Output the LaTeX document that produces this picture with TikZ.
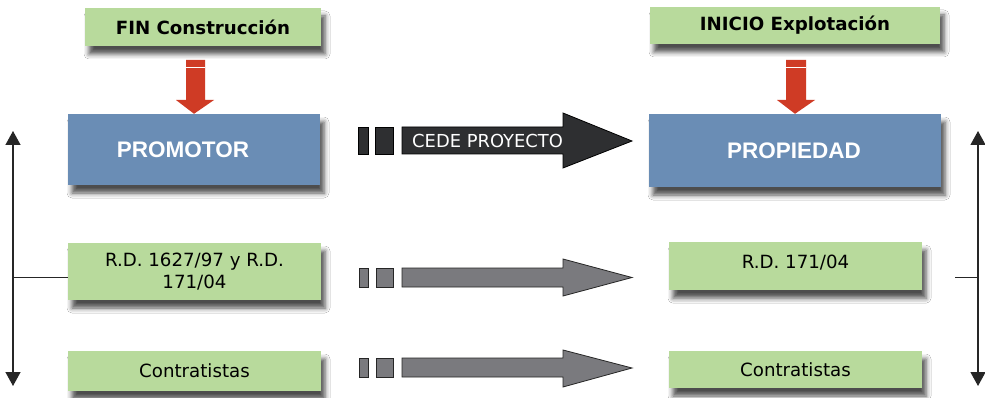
\documentclass[tikz,border=0pt]{standalone}
\usepackage{fontspec}
\usetikzlibrary{shadows.blur,arrows.meta}
\newfontfamily\dvs{DejaVu Sans}
\newfontfamily\lsans{Liberation Sans}
\definecolor{boxgreen}{HTML}{B8DA9C}
\definecolor{boxblue}{HTML}{6A8DB5}
\definecolor{arrred}{HTML}{CF3B25}
\definecolor{arrdark}{HTML}{2E2F31}
\definecolor{arrgray}{HTML}{7A7A7E}
\tikzset{
  shad/.style={blur shadow={shadow xshift=4pt, shadow yshift=-8pt, shadow blur radius=5pt, shadow opacity=70}},
  greenbox/.style={shad, fill=boxgreen, draw=none, inner sep=0pt, align=center, font=\dvs\fontsize{18.2}{22}\selectfont},
  titlebox/.style={greenbox, font=\dvs\bfseries\fontsize{18.2}{20}\selectfont},
  bluebox/.style={shad, fill=boxblue, draw=none, inner sep=0pt},
  bluetext/.style={text=white, font=\lsans\bfseries\fontsize{22.5}{26}\selectfont, inner sep=0pt},
  redarrow/.style={fill=arrred, draw=none},
  darkarrow/.style={fill=arrdark, draw=black, line width=0.8pt},
  grayarrow/.style={fill=arrgray, draw=black!85, line width=0.8pt},
  sidearrow/.style={line width=1.3pt, black!85, {Triangle[width=15pt,length=14pt]}-{Triangle[width=15pt,length=14pt]}},
}
\begin{document}
\begin{tikzpicture}[x=1pt,y=-1pt]
\useasboundingbox[fill=white] (0,0) rectangle (985,398);

% top title boxes
\node[titlebox, minimum width=236pt, minimum height=38pt] (fin) at (203,27) {FIN Construcción};
\node[titlebox, minimum width=290pt, minimum height=37pt] (ini) at (795,25.5) {INICIO Explotación};

% blue boxes
\node[bluebox, minimum width=252pt, minimum height=71pt] (prom) at (194,149.5) {};
\node[bluetext] (promt) at (183,150) {PROMOTOR};
\node[bluebox, minimum width=292pt, minimum height=73pt] (prop) at (795,150.5) {};
\node[bluetext] (propt) at (794,151) {PROPIEDAD};

% green boxes
\node[greenbox, minimum width=253pt, minimum height=57pt] (rd1) at (194.5,271.5) {R.D. 1627/97 y R.D.\\171/04};
\node[greenbox, minimum width=253pt, minimum height=40pt] (con1) at (194.5,371) {Contratistas};
\node[greenbox, minimum width=253pt, minimum height=48pt, anchor=north] (rd2) at (795.5,242) {};
\node[font=\dvs\fontsize{18.2}{22}\selectfont, inner sep=0pt] (rd2t) at (795.5,263) {R.D. 171/04};
\node[greenbox, minimum width=253pt, minimum height=37pt] (con2) at (795.5,369.5) {Contratistas};

% red arrows
\draw[redarrow] (186,60) -- (205,60) -- (205,100) -- (214,100) -- (prom.north) -- (176,100) -- (186,100) -- cycle;
\draw[white, line width=0.6pt] (186,67) -- (205,67);
\draw[redarrow] (786,60) -- (806,60) -- (806,100) -- (815,100) -- (prop.north) -- (777,100) -- (786,100) -- cycle;
\draw[white, line width=0.6pt] (786,67) -- (806,67);

% dark arrow
\draw[darkarrow] (358,127) rectangle (368,154);
\draw[darkarrow] (375,127) rectangle (393,154);
\draw[darkarrow] (402,127) -- (563,127) -- (563,113) -- (632,141) -- (563,168) -- (563,154) -- (402,154) -- cycle;
\node[anchor=west, text=white, inner sep=0pt, font=\dvs\fontsize{17.9}{20}\selectfont] (cede) at (412,141) {CEDE PROYECTO};

% gray arrows
\draw[grayarrow] (359,268) rectangle (368,287);
\draw[grayarrow] (376,268) rectangle (393,287);
\draw[grayarrow] (402,268) -- (563,268) -- (563,259) -- (632,277.5) -- (563,296) -- (563,287) -- (402,287) -- cycle;
\draw[grayarrow] (359,358) rectangle (368,377);
\draw[grayarrow] (376,358) rectangle (393,377);
\draw[grayarrow] (402,358) -- (563,358) -- (563,350) -- (632,368) -- (563,387) -- (563,377) -- (402,377) -- cycle;

% side arrows
\coordinate (lt) at (13,131);
\coordinate (lb) at (13,386);
\coordinate (lm) at (13,277);
\draw[sidearrow] (lt) -- (lb);
\draw[line width=1pt, black!85] (lm) -- (rd1.west |- lm);
\coordinate (rt) at (978,131);
\coordinate (rb) at (978,386);
\coordinate (rm) at (978,277);
\coordinate (rmw) at (955,277);
\draw[sidearrow] (rt) -- (rb);
\draw[line width=1pt, black!85] (rmw) -- (rm);
\end{tikzpicture}
\end{document}
